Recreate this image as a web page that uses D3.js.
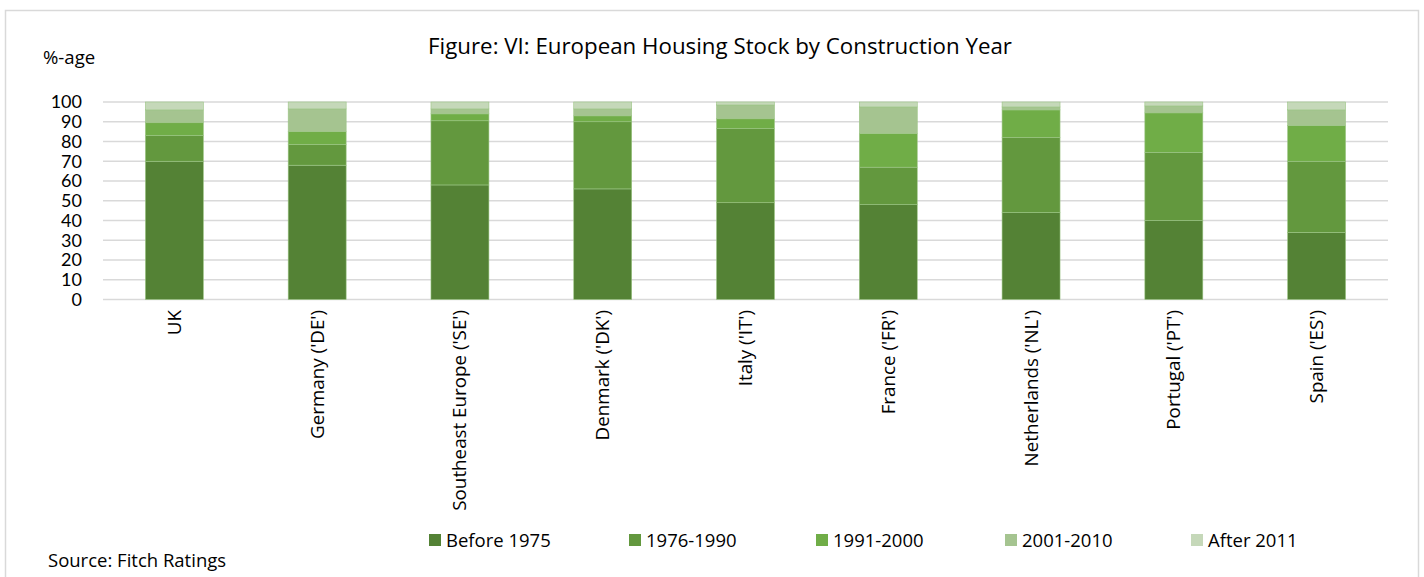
<!DOCTYPE html>
<html lang="en">
<head>
<meta charset="utf-8">
<title>European Housing Stock by Construction Year</title>
<script src="https://cdn.jsdelivr.net/npm/d3@7"></script>
<style>
  body { margin: 0; background: #fff; }
  text { font-family: "Open Sans", sans-serif; fill: #000; }
</style>
</head>
<body>
<script>
// data
var countries = ["UK", "Germany ('DE')", "Southeast Europe ('SE')", "Denmark ('DK')", "Italy ('IT')",
                 "France ('FR')", "Netherlands ('NL')", "Portugal ('PT')", "Spain ('ES')"];
var periods = ["Before 1975", "1976-1990", "1991-2000", "2001-2010", "After 2011"];
var before1975 = [70, 68, 58, 56, 49, 48, 44, 40, 34];
var y1976_1990 = [13, 10.5, 32.5, 34, 37.5, 19, 38, 34.5, 36];
var y1991_2000 = [6.5, 6.5, 3.5, 3, 5, 17, 14, 20, 18];
var y2001_2010 = [6.5, 11.5, 2.5, 3.5, 7, 13.5, 1.5, 3.5, 8];
var after2011  = [4, 3.5, 3.5, 3.5, 1.5, 2.5, 2.5, 2, 4];
var yTicks = [0, 10, 20, 30, 40, 50, 60, 70, 80, 90, 100];
var colors = ["#548235", "#63983e", "#70ad47", "#a5c490", "#c5d8b9"];

var W = 1424, H = 577;
var margin = {left: 103, right: 36, top: 102, bottom: 276};

var rows = countries.map(function(c, i) {
    return {country: c, "Before 1975": before1975[i], "1976-1990": y1976_1990[i],
            "1991-2000": y1991_2000[i], "2001-2010": y2001_2010[i], "After 2011": after2011[i]};
});

var svg = d3.select("body").append("svg").attr("width", W).attr("height", H);

// outer frame
svg.append("rect").attr("x", 5.5).attr("y", 10.5).attr("width", 1413).attr("height", 600)
    .attr("fill", "none").attr("stroke", "#d9d9d9").attr("stroke-width", 1.5);

var x = d3.scaleBand().domain(countries)
    .range([margin.left, W - margin.right])
    .paddingInner(0.594).paddingOuter(0.297);
var y = d3.scaleLinear().domain([0, 100]).range([H - margin.bottom + 0.5 - 2, margin.top]);

// gridlines
svg.append("g").selectAll("line").data(yTicks).enter().append("line")
    .attr("x1", margin.left).attr("x2", W - margin.right)
    .attr("y1", function(d) { return y(d); }).attr("y2", function(d) { return y(d); })
    .attr("stroke", "#d9d9d9").attr("stroke-width", 1.5);

// y axis labels
var yAxis = d3.axisLeft(y).tickValues(yTicks).tickSize(0).tickPadding(0);
var gy = svg.append("g").attr("transform", "translate(" + 82 + ",0)").call(yAxis);
gy.select(".domain").remove();
gy.selectAll("text").style("font-size", "18px").style("font-family", "Lato, sans-serif").attr("fill", "#000");

// stacked bars
var stack = d3.stack().keys(periods)(rows);
svg.append("g").selectAll("g").data(stack).enter().append("g")
    .attr("fill", function(d, i) { return colors[i]; })
    .selectAll("rect").data(function(d) { return d; }).enter().append("rect")
    .attr("x", function(d) { return x(d.data.country); })
    .attr("width", x.bandwidth())
    .attr("y", function(d) { return y(d[1]); })
    .attr("height", function(d) { return y(d[0]) - y(d[1]); })
    .attr("stroke", "#9cc585").attr("stroke-width", 0.6);

// rotated category labels
svg.append("g").selectAll("text").data(countries).enter().append("text")
    .attr("transform", function(d) {
        return "translate(" + (x(d) + x.bandwidth() / 2 + 6.5) + "," + 310 + ") rotate(-90)";
    })
    .attr("text-anchor", "end")
    .style("font-size", "18.8px")
    .text(function(d) { return d; });

// title and axis title
svg.append("text").attr("x", 720).attr("y", 54).attr("text-anchor", "middle")
    .style("font-size", "22.3px").text("Figure: VI: European Housing Stock by Construction Year");
svg.append("text").attr("x", 43).attr("y", 64).style("font-size", "18.6px").text("%-age");

// legend
var legendX = [429, 629, 816, 1005, 1191];
var lg = svg.append("g").selectAll("g").data(periods).enter().append("g")
    .attr("transform", function(d, i) { return "translate(" + legendX[i] + ",534)"; });
lg.append("rect").attr("width", 12).attr("height", 12)
    .attr("fill", function(d, i) { return colors[i]; });
lg.append("text").attr("x", 17).attr("y", 12.5).style("font-size", "18.5px").text(function(d) { return d; });

// source
svg.append("text").attr("x", 48).attr("y", 567).style("font-size", "18.5px").text("Source: Fitch Ratings");
</script>
</body>
</html>
